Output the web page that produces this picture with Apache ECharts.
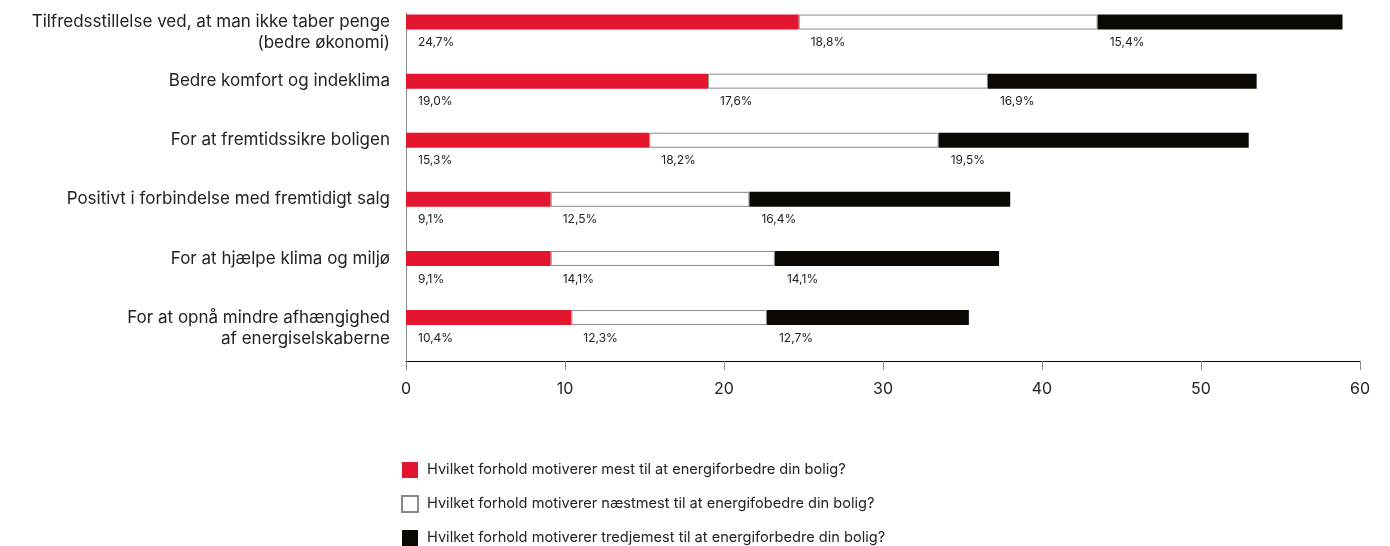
<!DOCTYPE html>
<html>
<head>
<meta charset="utf-8">
<script src="https://cdn.jsdelivr.net/npm/echarts@6/dist/echarts.min.js"></script>
<style>
  html, body { margin: 0; padding: 0; background: #fff; }
  #chart { width: 1390px; height: 546px; }
</style>
</head>
<body>
<div id="chart"></div>
<script>
// kategorier (top til bund)
var categories = [
  'Tilfredsstillelse ved, at man ikke taber penge\n(bedre økonomi)',
  'Bedre komfort og indeklima',
  'For at fremtidssikre boligen',
  'Positivt i forbindelse med fremtidigt salg',
  'For at hjælpe klima og miljø',
  'For at opnå mindre afhængighed\naf energiselskaberne'
]
var seriesNames = [
  'Hvilket forhold motiverer mest til at energiforbedre din bolig?',
  'Hvilket forhold motiverer næstmest til at energifobedre din bolig?',
  'Hvilket forhold motiverer tredjemest til at energiforbedre din bolig?'
]
var mest = [24.7, 19.0, 15.3, 9.1, 9.1, 10.4]
var naestmest = [18.8, 17.6, 18.2, 12.5, 14.1, 12.3]
var tredjemest = [15.4, 16.9, 19.5, 16.4, 14.1, 12.7]
var xTicks = { min: 0, max: 60, interval: 10 }

var font = 'Inter'
var textColor = '#222'

function pct(p) {
  return p.value.toFixed(1).replace('.', ',') + '%'
}

function barSeries(name, data, color, border) {
  return {
    name: name,
    type: 'bar',
    stack: 'total',
    xAxisIndex: 1,
    yAxisIndex: 1,
    barWidth: 15,
    data: data,
    itemStyle: {
      color: color,
      borderColor: border || color,
      borderWidth: border ? 1 : 0
    },
    label: {
      show: true,
      position: ['0%', '100%'],
      offset: [12, 7],
      fontFamily: font,
      fontSize: 12,
      color: textColor,
      formatter: pct
    },
    emphasis: { disabled: true }
  }
}

var chart = echarts.init(document.getElementById('chart'))
chart.setOption({
  animation: false,
  textStyle: { fontFamily: font },
  grid: [
    // akser
    { left: 406, right: 30, top: 13, bottom: 185, outerBoundsMode: 'none' },
    // søjler
    { left: 406, right: 30, top: -7.5, height: 354.6, outerBoundsMode: 'none' }
  ],
  legend: {
    orient: 'vertical',
    left: 401,
    top: 462,
    itemWidth: 16,
    itemHeight: 16,
    itemGap: 17,
    padding: 0,
    icon: 'rect',
    textStyle: { fontFamily: font, fontSize: 14.6, color: textColor, padding: [0, 0, 0, 4] },
    data: seriesNames
  },
  xAxis: [
    {
      gridIndex: 0,
      type: 'value',
      min: xTicks.min,
      max: xTicks.max,
      interval: xTicks.interval,
      axisLine: { show: true, lineStyle: { color: '#000', width: 1 } },
      axisTick: { show: true, length: 9, lineStyle: { color: '#888' } },
      axisLabel: { fontFamily: font, fontSize: 16, color: textColor, margin: 20 },
      splitLine: { show: false }
    },
    {
      gridIndex: 1,
      type: 'value',
      min: xTicks.min,
      max: xTicks.max,
      show: false
    }
  ],
  yAxis: [
    {
      gridIndex: 0,
      type: 'value',
      min: 0,
      max: 1,
      axisLine: { show: true, lineStyle: { color: '#888', width: 1 } },
      axisTick: { show: false },
      axisLabel: { show: false },
      splitLine: { show: false }
    },
    {
      gridIndex: 1,
      type: 'category',
      inverse: true,
      data: categories,
      axisLine: { show: false },
      axisTick: { show: false },
      axisLabel: {
        fontFamily: font,
        fontSize: 17,
        lineHeight: 21,
        color: textColor,
        margin: 16,
        formatter: function (v) {
          // første linje flugter med søjlen
          return v.indexOf('\n') >= 0 ? '\u00a0\n' + v : v
        }
      }
    }
  ],
  series: [
    barSeries(seriesNames[0], mest, '#e3152f'),
    barSeries(seriesNames[1], naestmest, '#ffffff', '#8a8a8a'),
    barSeries(seriesNames[2], tredjemest, '#0c0905')
  ]
})
</script>
</body>
</html>
